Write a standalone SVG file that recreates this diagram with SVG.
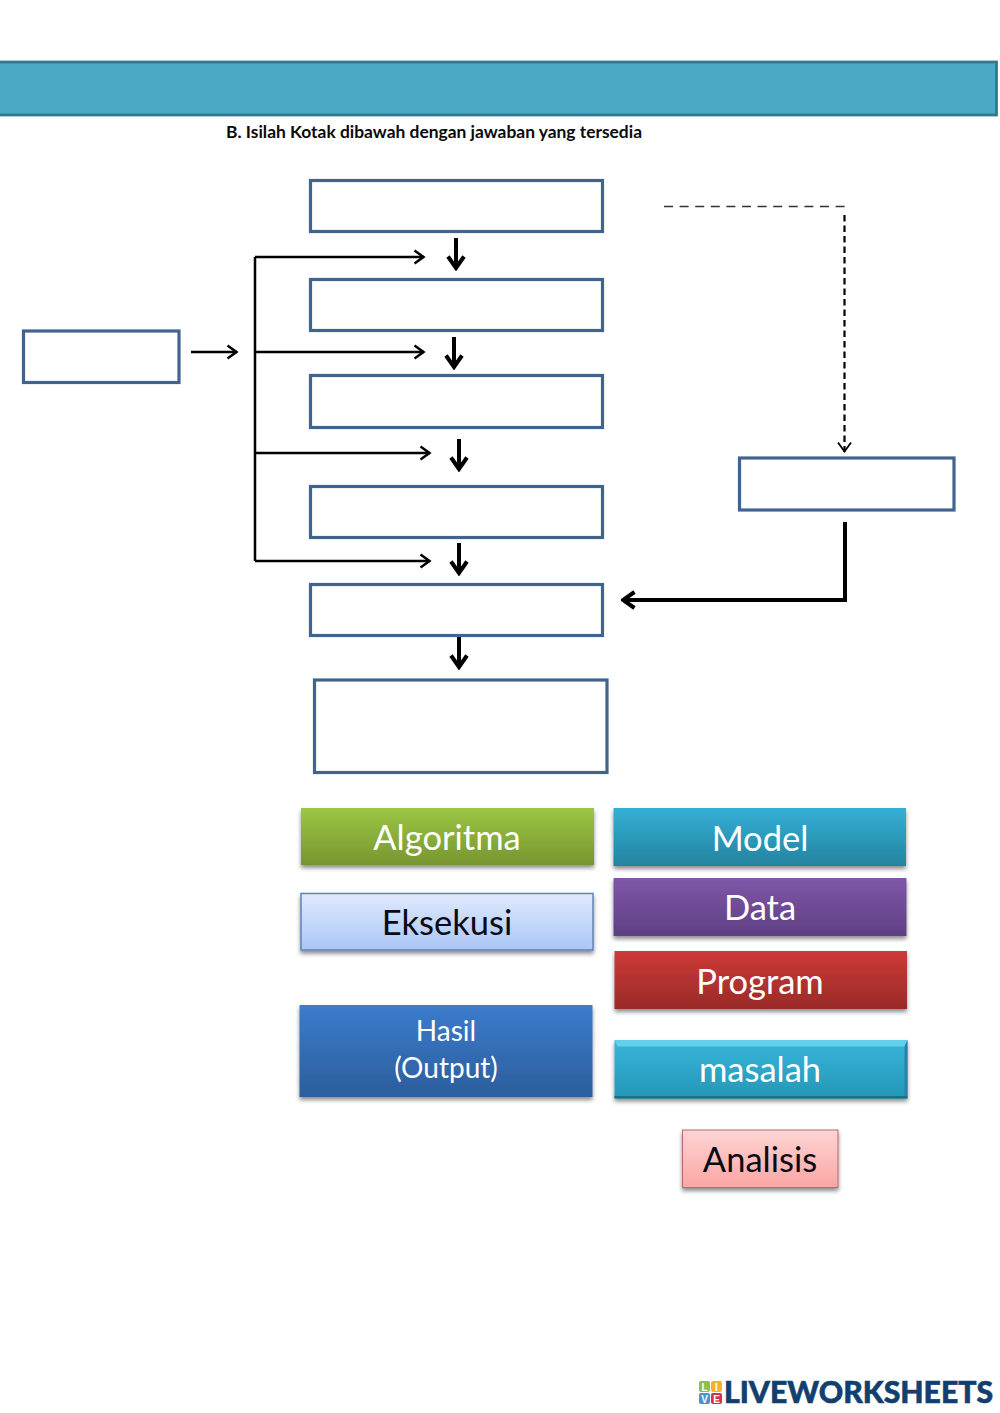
<svg xmlns="http://www.w3.org/2000/svg" width="1000" height="1413" viewBox="0 0 1000 1413">
<style>
.box{fill:#fff;stroke:#41648f;stroke-width:3.200}
.thin{fill:none;stroke:#000;stroke-width:2.500}
.thick{fill:none;stroke:#000;stroke-width:4}
.lbl{font-family:Lato,"Open Sans",sans-serif;text-anchor:middle;fill:#fff}
.big{font-size:34.500px}
.dark{fill:#0a0a14}
.chip{font-family:"Liberation Sans",sans-serif;font-weight:700;fill:#fff;text-anchor:middle}
</style>
<defs>
<filter id="sh" x="-5%" y="-15%" width="110%" height="135%"><feDropShadow dx="0" dy="3" stdDeviation="2.200" flood-color="#000" flood-opacity=".45"/></filter>
<linearGradient id="gG" x1="0" y1="0" x2="0" y2="1"><stop offset="0" stop-color="#9dc644"/><stop offset="1" stop-color="#76962f"/></linearGradient>
<linearGradient id="gE" x1="0" y1="0" x2="0" y2="1"><stop offset="0" stop-color="#e0eafd"/><stop offset="1" stop-color="#aac6f6"/></linearGradient>
<linearGradient id="gB" x1="0" y1="0" x2="0" y2="1"><stop offset="0" stop-color="#3b7ccc"/><stop offset="1" stop-color="#2c5d9c"/></linearGradient>
<linearGradient id="gT" x1="0" y1="0" x2="0" y2="1"><stop offset="0" stop-color="#33b0d6"/><stop offset="1" stop-color="#24839f"/></linearGradient>
<linearGradient id="gP" x1="0" y1="0" x2="0" y2="1"><stop offset="0" stop-color="#7f57aa"/><stop offset="1" stop-color="#5f3f83"/></linearGradient>
<linearGradient id="gR" x1="0" y1="0" x2="0" y2="1"><stop offset="0" stop-color="#cd3a37"/><stop offset="1" stop-color="#9a2a28"/></linearGradient>
<linearGradient id="gM" x1="0" y1="0" x2="0" y2="1"><stop offset="0" stop-color="#37b6da"/><stop offset="1" stop-color="#2596b6"/></linearGradient>
<linearGradient id="gA" x1="0" y1="0" x2="0" y2="1"><stop offset="0" stop-color="#fdd5d4"/><stop offset="1" stop-color="#fba5a4"/></linearGradient>
<marker id="a" viewBox="0 0 14 16" refX="12.500" refY="8" markerWidth="14" markerHeight="16" markerUnits="userSpaceOnUse" orient="auto"><path d="M3 1.500 12 8 3 14.500" fill="none" stroke="#000" stroke-width="2.500"/></marker>
<marker id="ab" viewBox="0 0 16 20" refX="14.500" refY="10" markerWidth="16" markerHeight="20" markerUnits="userSpaceOnUse" orient="auto"><path d="M2 2 13.500 10 2 18" fill="none" stroke="#000" stroke-width="4"/></marker>
<marker id="ad" viewBox="0 0 12 16" refX="11" refY="8" markerWidth="12" markerHeight="16" markerUnits="userSpaceOnUse" orient="auto"><path d="M1.500 1.500 10.500 8 1.500 14.500" fill="none" stroke="#000" stroke-width="1.800"/></marker>
</defs>
<rect width="1000" height="1413" fill="#fff"/>
<rect id="banner" x="-4" y="62" width="1000.500" height="53" fill="#4aa9c4" stroke="#34788e" stroke-width="2.800"/>
<text x="226" y="137.500" font-family="Lato,'Open Sans',sans-serif" font-size="17" font-weight="700" fill="#0a0a0a" textLength="416" lengthAdjust="spacingAndGlyphs">B. Isilah Kotak dibawah dengan jawaban yang tersedia</text>
<g id="connectors">
<path class="thin" d="M255 257V561"/>
<path class="thin" d="M255 257H424" marker-end="url(#a)"/>
<path class="thin" d="M255 352H424" marker-end="url(#a)"/>
<path class="thin" d="M255 453H430" marker-end="url(#a)"/>
<path class="thin" d="M255 561H430" marker-end="url(#a)"/>
<path class="thin" d="M191 352H237" marker-end="url(#a)"/>
<path class="thick" d="M456 238V269" marker-end="url(#ab)"/>
<path class="thick" d="M454 337V368" marker-end="url(#ab)"/>
<path class="thick" d="M459 439V470" marker-end="url(#ab)"/>
<path class="thick" d="M459 543V574" marker-end="url(#ab)"/>
<path class="thick" d="M459 637V668" marker-end="url(#ab)"/>
<path d="M664 206.500H845" fill="none" stroke="#333" stroke-width="1.300" stroke-dasharray="9 6.600"/>
<path d="M844.500 215V452" fill="none" stroke="#000" stroke-width="2.200" stroke-dasharray="6.500 4" marker-end="url(#ad)"/>
<path class="thick" d="M845 522V600H622" marker-end="url(#ab)"/>
</g>
<g id="box-1"><rect class="box" x="310.500" y="180.500" width="292" height="51"/></g>
<g id="box-2"><rect class="box" x="310.500" y="279.500" width="292" height="51"/></g>
<g id="box-3"><rect class="box" x="310.500" y="375.500" width="292" height="52"/></g>
<g id="box-4"><rect class="box" x="310.500" y="486.500" width="292" height="51"/></g>
<g id="box-5"><rect class="box" x="310.500" y="584.500" width="292" height="51"/></g>
<g id="box-6"><rect class="box" x="314.500" y="680" width="292.500" height="92.500"/></g>
<g id="box-left"><rect class="box" x="23.500" y="331" width="155.500" height="51.500"/></g>
<g id="box-right"><rect class="box" x="739.500" y="458" width="214.500" height="52"/></g>
<g id="opt-algoritma"><rect x="301" y="808" width="293" height="57" fill="url(#gG)" filter="url(#sh)"/><text class="lbl big" x="447" y="850">Algoritma</text></g>
<g id="opt-eksekusi"><rect x="301" y="893.500" width="292" height="56.500" fill="url(#gE)" stroke="#5b84bd" stroke-width="1.500" filter="url(#sh)"/><text class="lbl big dark" x="447" y="935">Eksekusi</text></g>
<g id="opt-hasil"><rect x="299.500" y="1005" width="293" height="92" fill="url(#gB)" filter="url(#sh)"/><text class="lbl" font-size="28" x="446" y="1041">Hasil</text><text class="lbl" font-size="28" x="446" y="1078">(Output)</text></g>
<g id="opt-model"><rect x="613.500" y="808" width="292.500" height="58" fill="url(#gT)" filter="url(#sh)"/><text class="lbl big" x="760" y="851">Model</text></g>
<g id="opt-data"><rect x="613.500" y="878" width="293" height="58" fill="url(#gP)" filter="url(#sh)"/><text class="lbl big" x="760" y="920">Data</text></g>
<g id="opt-program"><rect x="614.500" y="951" width="292.500" height="58" fill="url(#gR)" filter="url(#sh)"/><text class="lbl big" x="760" y="994">Program</text></g>
<g id="opt-masalah"><rect x="614.500" y="1040" width="293" height="58.500" fill="url(#gM)" filter="url(#sh)"/><path d="M614.500 1040H907.500L904.500 1046.500H617.500Z" fill="#62d0ea"/><path d="M907.500 1040 904.500 1046.500V1096H907.500Z" fill="#2285a1"/><path d="M614.500 1098.500H907.500V1096H614.500Z" fill="#1c6f87"/><text class="lbl big" x="760" y="1082">masalah</text></g>
<g id="opt-analisis"><rect x="682.500" y="1130" width="155.500" height="57.500" fill="url(#gA)" stroke="#b86a68" stroke-width="1" filter="url(#sh)"/><text class="lbl big dark" x="760" y="1172">Analisis</text></g>
<g id="logo">
<rect x="699" y="1381" width="11" height="11" rx="2" fill="#8cc04a"/><text class="chip" x="704.500" y="1390.500" font-size="10">L</text>
<rect x="711" y="1381" width="11" height="11" rx="2" fill="#f5b428"/><text class="chip" x="716.500" y="1390.500" font-size="10">I</text>
<rect x="699" y="1393" width="11" height="11" rx="2" fill="#4a8fd8"/><text class="chip" x="704.500" y="1402.500" font-size="10">V</text>
<rect x="711" y="1393" width="11" height="11" rx="2" fill="#d9304a"/><text class="chip" x="716.500" y="1402.500" font-size="10">E</text>
<text x="724" y="1403" font-family="Lato,'Liberation Sans',sans-serif" font-size="31" font-weight="900" fill="#123f6d" stroke="#123f6d" stroke-width=".6" textLength="269" lengthAdjust="spacingAndGlyphs">LIVEWORKSHEETS</text>
</g>
</svg>
